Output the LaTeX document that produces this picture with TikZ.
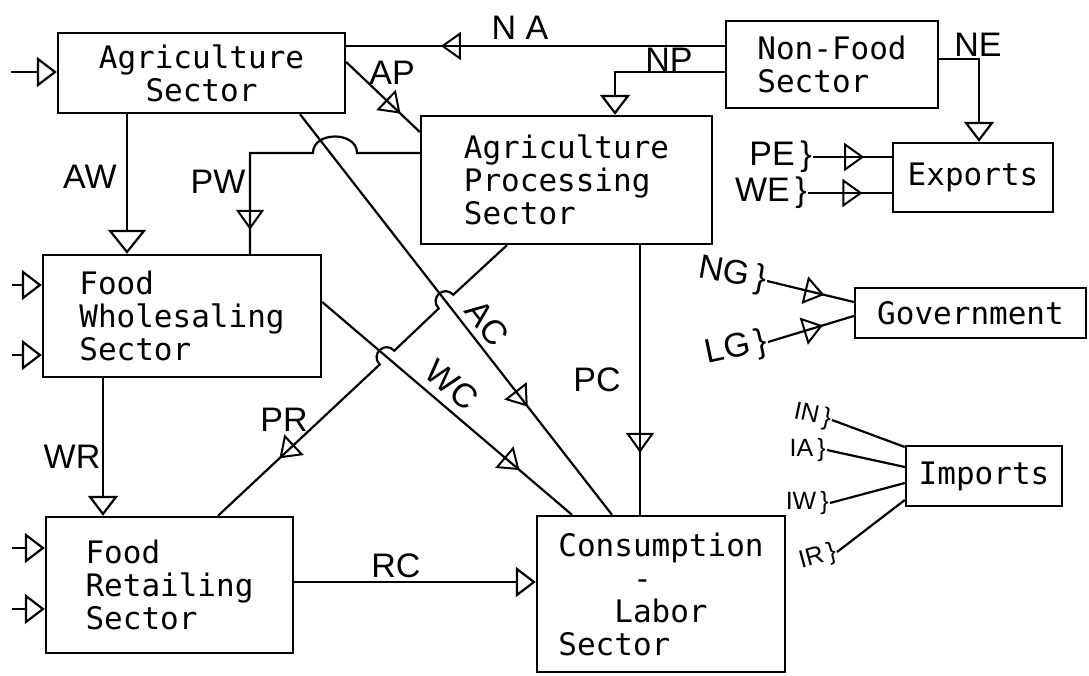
\documentclass[tikz,border=0pt]{standalone}
\usepackage{fontspec}
\newfontfamily\boxfont{DejaVu Sans Mono}
\newfontfamily\handfont{Liberation Sans}
\usetikzlibrary{arrows.meta, decorations.markings}
\tikzstyle{sector} = [
    rectangle,
    draw=black,
    line width=2.4pt,
    inner sep=0pt,
    align=left,
    font=\boxfont\fontsize{31}{33}\selectfont
]
\tikzstyle{flow} = [line width=2.2pt]
\tikzstyle{flowarrow} = [flow, -{Triangle[open, length=20pt, width=30pt]}]
\tikzstyle{bigarrow} = [flow, -{Triangle[open, length=24pt, width=38pt]}]
\tikzstyle{tag} = [font=\handfont\fontsize{34}{34}\selectfont, inner sep=1pt]
\tikzstyle{smalltag} = [font=\handfont\fontsize{25}{25}\selectfont, inner sep=1pt]
\tikzset{midarrow/.style={postaction={decorate}, decoration={markings,
    mark=at position #1 with {\arrow[line width=2pt]{Triangle[open, length=20pt, width=28pt]}}}}}

\begin{document}
\begin{tikzpicture}[x=1pt, y=-1pt]
\useasboundingbox (0,0) rectangle (1089,675);

% sectors
\node (agri) [sector, align=center, minimum width=287pt, minimum height=80pt] at (201.5,73)
{Agriculture\\Sector};
\node (proc) [sector, minimum width=291pt, minimum height=128pt] at (566.5,180)
{Agriculture\\Processing\\Sector};
\node (nonfood) [sector, minimum width=212pt, minimum height=87pt] at (832,64.5)
{Non-Food\\Sector};
\node (exports) [sector, minimum width=160pt, minimum height=69pt] at (973,177.5) {Exports};
\node (govt) [sector, minimum width=231pt, minimum height=50pt] at (970.5,313) {Government};
\node (imports) [sector, minimum width=156pt, minimum height=60pt] at (984,476) {Imports};
\node (whole) [sector, minimum width=278pt, minimum height=122pt] at (182,316)
{Food\\Wholesaling\\Sector};
\node (retail) [sector, minimum width=247pt, minimum height=136pt] at (169.5,585)
{Food\\Retailing\\Sector};
\node (consum) [sector, minimum width=248pt, minimum height=156pt] at (661,594)
{Consumption\\\hphantom{Cons}-\\\hphantom{Con}Labor\\Sector};

% flow labels
\node (na) [tag] at (520,28) {N A};
\node (ap) [tag] at (392,73) {AP};
\node (np) [tag] at (669,60) {NP};
\node (ne) [tag] at (978,45) {NE};
\node (aw) [tag] at (90,177) {AW};
\node (pw) [tag] at (218,182) {PW};
\node (ac) [tag, rotate=-52] at (487,323) {AC};
\node (wc) [tag, rotate=-40] at (452,385) {WC};
\node (pc) [tag] at (597,380) {PC};
\node (pr) [tag] at (284,420) {PR};
\node (wr) [tag] at (72,457) {WR};
\node (rc) [tag] at (396,566) {RC};
\node (pe) [tag, anchor=east] at (813,157) {PE\,\}};
\node (we) [tag, anchor=east] at (808,193) {WE\,\}};
\node (ng) [tag, anchor=east, rotate=-10] at (767,281) {NG\,\}};
\node (lg) [tag, anchor=east, rotate=12] at (768,342) {LG\,\}};
\node (in) [smalltag, anchor=east, rotate=-12] at (832,420) {IN\,\}};
\node (ia) [smalltag, anchor=east] at (827,450) {IA\,\}};
\node (iw) [smalltag, anchor=east] at (830,503) {IW\,\}};
\node (ir) [smalltag, anchor=east, rotate=15] at (837,552) {IR\,\}};

% outside inputs
\draw [flowarrow] ([xshift=-46pt,yshift=1pt]agri.west) -- ([yshift=1pt]agri.west);
\foreach \dy in {31,-39}
    \draw [flowarrow] ([xshift=-30pt,yshift=\dy pt]whole.west) -- ([yshift=\dy pt]whole.west);
\foreach \dy in {37,-24}
    \draw [flowarrow] ([xshift=-33pt,yshift=\dy pt]retail.west) -- ([yshift=\dy pt]retail.west);

% non-food flows
\coordinate (naStart) at ([yshift=18.5pt]nonfood.west);
\draw [flow, midarrow=0.75] (naStart) -- (naStart -| agri.east);
\coordinate (npStart) at ([yshift=-7.5pt]nonfood.west);
\coordinate (npEnd) at ([xshift=48.5pt]proc.north);
\draw [flowarrow] (npStart) -| (npEnd);
\coordinate (neStart) at ([yshift=5.5pt]nonfood.east);
\coordinate (neEnd) at ([xshift=6pt]exports.north);
\draw [flowarrow] (neStart) -| (neEnd);

% exports
\draw [flow, midarrow=0.65] (pe.east) -- (pe.east -| exports.west);
\draw [flow, midarrow=0.65] (we.east) -- (we.east -| exports.west);

% agriculture flows
\draw [flow, midarrow=0.74] ([yshift=11pt]agri.east) -- ([yshift=48pt]proc.west);
\coordinate (awTop) at ([xshift=-74.5pt]agri.south);
\draw [bigarrow] (awTop) -- (awTop |- whole.north);
\coordinate (acStart) at ([xshift=98.5pt]agri.south);
\coordinate (acEnd) at ([xshift=-49pt]consum.north);
\draw [flow, midarrow=0.73] (acStart) -- (acEnd);

% processing flows
\coordinate (pwStart) at ([yshift=27pt]proc.west);
\coordinate (pwEnd) at ([xshift=68pt]whole.north);
\draw [flow, midarrow=-24pt] (pwStart) -- (357,153) .. controls (357,131) and (313,131) .. (313,153)
    -- (pwStart -| pwEnd) -- (pwEnd);
\coordinate (prStart) at ([xshift=-59.5pt]proc.south);
\coordinate (prEnd) at ([xshift=48.5pt]retail.north);
\draw [flow, midarrow=0.8] (prStart) -- (453.3,294.7)
    .. controls (443.7,284.5) and (429.1,298.3) .. (438.7,308.5) -- (394.3,350.7)
    .. controls (384.7,340.5) and (370.1,354.3) .. (379.7,364.5) -- (prEnd);
\coordinate (pcStart) at ([xshift=73.5pt]proc.south);
\draw [flow, midarrow=0.77] (pcStart) -- (pcStart |- consum.north);

% wholesaling and retailing flows
\coordinate (wcStart) at ([yshift=14pt]whole.east);
\coordinate (wcEnd) at ([xshift=-89pt]consum.north);
\draw [flow, midarrow=0.79] (wcStart) -- (wcEnd);
\coordinate (wrTop) at ([xshift=-79pt]whole.south);
\draw [flowarrow] (wrTop) -- (wrTop |- retail.north);
\coordinate (rcStart) at ([yshift=3pt]retail.east);
\draw [flowarrow] (rcStart) -- (rcStart -| consum.west);

% government
\draw [flow, midarrow=0.66] (ng.east) -- ([yshift=11pt]govt.west);
\draw [flow, midarrow=0.64] (lg.east) -- ([yshift=-3pt]govt.west);

% imports
\draw [flow] (in.east) -- ([yshift=29pt]imports.west);
\draw [flow] (ia.east) -- ([yshift=9pt]imports.west);
\draw [flow] (iw.east) -- ([yshift=-7pt]imports.west);
\draw [flow] (ir.east) -- ([yshift=-24pt]imports.west);

\end{tikzpicture}
\end{document}
